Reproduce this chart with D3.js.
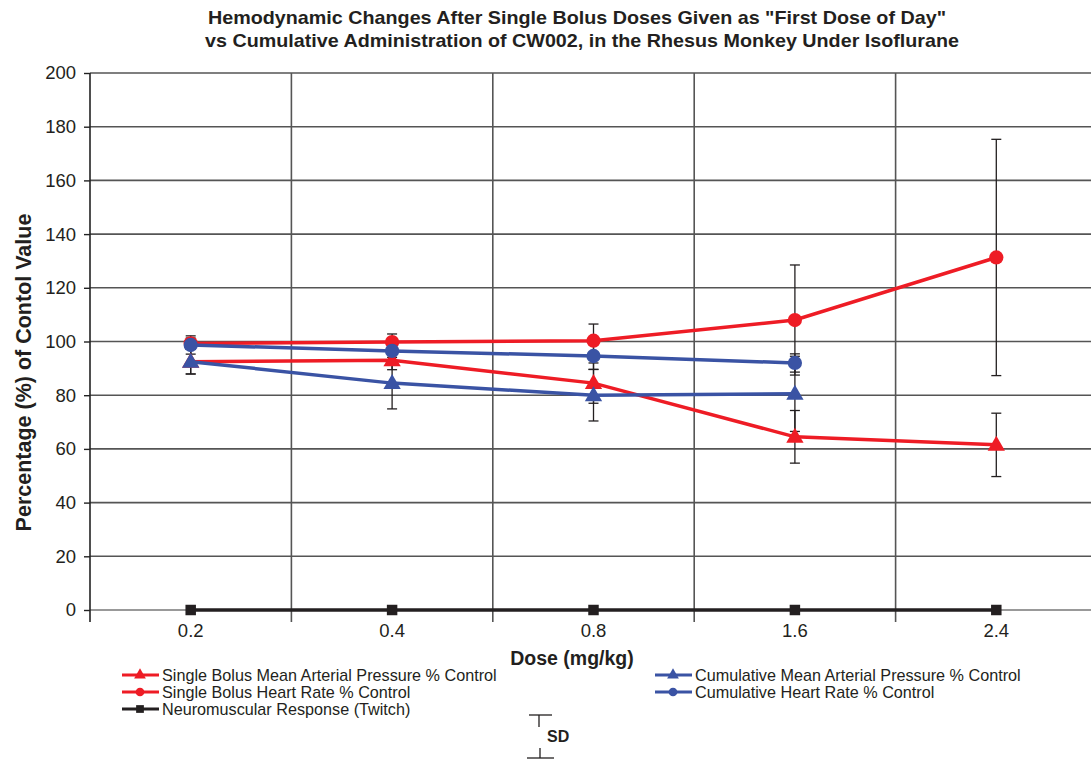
<!DOCTYPE html>
<html>
<head>
<meta charset="utf-8">
<script src="https://cdn.jsdelivr.net/npm/d3@7"></script>
<style>
  body { margin: 0; background: #fff; }
  svg { display: block; font-family: "Liberation Sans", Arial, sans-serif; }
</style>
</head>
<body>
<svg id="chart" width="1091" height="759"></svg>
<script>
const doses = ['0.2', '0.4', '0.8', '1.6', '2.4']

// mean values (% of control)
const sbMap = [92.5, 93, 84.5, 64.5, 61.5]
const sbHr = [99.3, 99.8, 100.3, 108, 131.3]
const cumMap = [92.5, 84.5, 80, 80.5]
const cumHr = [98.7, 96.5, 94.6, 92]
const twitch = [0, 0, 0, 0, 0]

// standard deviations
const sbMapSd = [4.6, 3.5, 7.5, 9.8, 11.8]
const sbHrSd = [2, 3, 6.2, 20.5, 44]
const cumMapSd = [4.6, 9.6, 9.6, 14]
const cumHrSd = [3.4, 4, 5, 3.4]

const yTicks = d3.range(0, 201, 20)

const series = [
  { name: 'Single Bolus Mean Arterial Pressure % Control', values: sbMap, sd: sbMapSd, color: '#ee1c25', shape: 'triangle' },
  { name: 'Single Bolus Heart Rate % Control', values: sbHr, sd: sbHrSd, color: '#ee1c25', shape: 'circle' },
  { name: 'Neuromuscular Response (Twitch)', values: twitch, sd: null, color: '#231f20', shape: 'square' },
  { name: 'Cumulative Mean Arterial Pressure % Control', values: cumMap, sd: cumMapSd, color: '#3a53a4', shape: 'triangle' },
  { name: 'Cumulative Heart Rate % Control', values: cumHr, sd: cumHrSd, color: '#3a53a4', shape: 'circle' },
]

const margin = { left: 90, top: 73, right: -6, bottom: 149 }
const width = 1091
const height = 759

const svg = d3.select('#chart')

const x = d3.scaleBand()
  .domain(doses)
  .range([margin.left, width - margin.right])

const y = d3.scaleLinear()
  .domain([0, 200])
  .range([height - margin.bottom, margin.top])

// horizontal grid
svg.append('g')
  .selectAll('line')
  .data(yTicks)
  .join('line')
  .attr('x1', margin.left)
  .attr('x2', width)
  .attr('y1', d => y(d))
  .attr('y2', d => y(d))
  .attr('stroke', d => (d === 0 ? '#777' : '#555'))
  .attr('stroke-width', 1.6)

// vertical grid between categories
svg.append('g')
  .selectAll('line')
  .data(doses.slice(1))
  .join('line')
  .attr('x1', d => x(d))
  .attr('x2', d => x(d))
  .attr('y1', y(200))
  .attr('y2', y(0) + 12)
  .attr('stroke', '#555')
  .attr('stroke-width', 1.6)

// y axis
const yAxis = svg.append('g')
  .attr('transform', `translate(${margin.left},0)`)
  .call(d3.axisLeft(y).tickValues(yTicks).tickSize(6).tickPadding(8))
yAxis.select('.domain').attr('stroke', '#222').attr('stroke-width', 1.6)
  .attr('d', `M0,${y(200)}V${y(0) + 12}`)
yAxis.selectAll('.tick line').attr('stroke', '#222').attr('stroke-width', 1.4)
yAxis.selectAll('.tick text')
  .attr('font-size', 18.5)
  .attr('fill', '#231f20')
  .style('font-family', '"Liberation Sans", Arial, sans-serif')

// x axis labels
const xAxis = svg.append('g')
  .attr('transform', `translate(0,${y(0)})`)
  .call(d3.axisBottom(x).tickSize(0).tickPadding(14))
xAxis.select('.domain').remove()
xAxis.selectAll('.tick text')
  .attr('font-size', 18.5)
  .attr('fill', '#231f20')
  .style('font-family', '"Liberation Sans", Arial, sans-serif')

const cx = d => x(d) + x.bandwidth() / 2

// error bars
series.filter(s => s.sd).forEach(s => {
  const g = svg.append('g')
  s.values.forEach((v, i) => {
    const px = cx(doses[i])
    const lo = y(v - s.sd[i])
    const hi = y(v + s.sd[i])
    g.append('line')
      .attr('x1', px).attr('x2', px)
      .attr('y1', lo).attr('y2', hi)
      .attr('stroke', '#231f20').attr('stroke-width', 1.3)
    ;[lo, hi].forEach(py => {
      g.append('line')
        .attr('x1', px - 5).attr('x2', px + 5)
        .attr('y1', py).attr('y2', py)
        .attr('stroke', '#231f20').attr('stroke-width', 1.3)
    })
  })
})

const line = d3.line()
  .x((d, i) => cx(doses[i]))
  .y(d => y(d))

const symbolFor = {
  triangle: d3.symbol(d3.symbolTriangle, 130),
  circle: d3.symbol(d3.symbolCircle, 160),
  square: d3.symbol(d3.symbolSquare, 110),
}

// draw lines: twitch first, then the others
const drawOrder = [2, 0, 1, 3, 4]
drawOrder.forEach(k => {
  const s = series[k]
  svg.append('path')
    .datum(s.values)
    .attr('fill', 'none')
    .attr('stroke', s.color)
    .attr('stroke-width', 3.5)
    .attr('d', line)
  svg.append('g')
    .selectAll('path')
    .data(s.values)
    .join('path')
    .attr('transform', (d, i) => `translate(${cx(doses[i])},${y(d) + (s.shape === 'triangle' ? 1 : 0)})`)
    .attr('d', symbolFor[s.shape])
    .attr('fill', s.color)
})

// title
const title = svg.append('g')
  .attr('font-weight', 'bold')
  .attr('font-size', 19)
  .attr('fill', '#231f20')
  .style('font-family', '"Liberation Sans Narrow", "Liberation Sans", Arial, sans-serif')
title.append('text').attr('x', 208).attr('y', 24)
  .attr('textLength', 738).attr('lengthAdjust', 'spacingAndGlyphs')
  .text('Hemodynamic Changes After Single Bolus Doses Given as "First Dose of Day"')
title.append('text').attr('x', 205).attr('y', 47)
  .attr('textLength', 754).attr('lengthAdjust', 'spacingAndGlyphs')
  .text('vs Cumulative Administration of CW002, in the Rhesus Monkey Under Isoflurane')

// axis titles
svg.append('text')
  .attr('transform', `translate(31,${(y(0) + y(200)) / 2 + 31}) rotate(-90)`)
  .attr('text-anchor', 'middle')
  .attr('font-weight', 'bold')
  .attr('font-size', 21.5)
  .attr('fill', '#231f20')
  .text('Percentage (%) of Contol Value')

svg.append('text')
  .attr('x', 572)
  .attr('y', 665)
  .attr('text-anchor', 'middle')
  .attr('font-weight', 'bold')
  .attr('font-size', 19.5)
  .attr('fill', '#231f20')
  .text('Dose (mg/kg)')

// legend
const legendPos = [
  [122, 675], [122, 692], [122, 709], [655, 675], [655, 692],
]
series.forEach((s, k) => {
  const [lx, ly] = legendPos[k]
  const g = svg.append('g').attr('transform', `translate(${lx},${ly})`)
  g.append('line')
    .attr('x1', 0).attr('x2', 37)
    .attr('y1', 0).attr('y2', 0)
    .attr('stroke', s.color).attr('stroke-width', 3)
  g.append('path')
    .attr('transform', 'translate(18,0)')
    .attr('d', d3.symbol(s.shape === 'triangle' ? d3.symbolTriangle : s.shape === 'circle' ? d3.symbolCircle : d3.symbolSquare, 60))
    .attr('fill', s.color)
  g.append('text')
    .attr('x', 40)
    .attr('y', 6)
    .attr('font-size', 16.2)
    .attr('fill', '#231f20')
    .text(s.name)
})

// SD key
const sdKey = svg.append('g').attr('stroke', '#231f20').attr('stroke-width', 1.3)
sdKey.append('line').attr('x1', 529).attr('x2', 552).attr('y1', 715).attr('y2', 715)
sdKey.append('line').attr('x1', 539).attr('x2', 539).attr('y1', 715).attr('y2', 727)
sdKey.append('line').attr('x1', 540).attr('x2', 540).attr('y1', 748).attr('y2', 758)
sdKey.append('line').attr('x1', 527).attr('x2', 554).attr('y1', 758).attr('y2', 758)
svg.append('text')
  .attr('x', 547)
  .attr('y', 742)
  .attr('font-weight', 'bold')
  .attr('font-size', 16)
  .attr('fill', '#231f20')
  .text('SD')
</script>
</body>
</html>
